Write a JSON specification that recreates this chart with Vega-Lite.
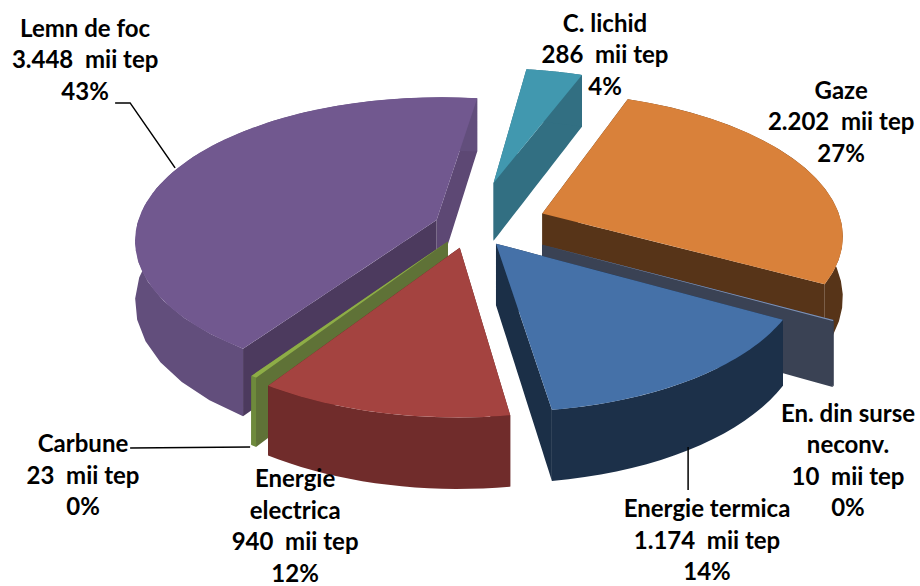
{"$schema":"https://vega.github.io/schema/vega-lite/v6.json","width":920,"height":586,"autosize":{"type":"none"},"padding":0,"background":"white","view":{"stroke":null},
"data":{"values":[
{"name":"Lemn de foc","value":3448,"label":"Lemn de foc\n3.448\u00a0 mii tep\n43%"},
{"name":"Gaze","value":2202,"label":"Gaze\n2.202\u00a0 mii tep\n27%"},
{"name":"C. lichid","value":286,"label":"C. lichid\n286\u00a0 mii tep\n4%"},
{"name":"En. din surse neconv.","value":10,"label":"En. din surse\nneconv.\n10\u00a0 mii tep\n0%"},
{"name":"Carbune","value":23,"label":"Carbune\n23\u00a0 mii tep\n0%"},
{"name":"Energie electrica","value":940,"label":"Energie\nelectrica\n940\u00a0 mii tep\n12%"},
{"name":"Energie termica","value":1174,"label":"Energie termica\n1.174\u00a0 mii tep\n14%"}
]},
"layer":[
{"transform":[
{"calculate":"indexof(['C. lichid','Gaze','En. din surse neconv.','Energie termica','Energie electrica','Carbune','Lemn de foc'],datum.name)","as":"seq"},
{"stack":"value","sort":[{"field":"seq","order":"ascending"}],"as":["v0","v1"]},
{"joinaggregate":[{"op":"sum","field":"value","as":"total"}]},
{"calculate":"(8+360*datum.v0/datum.total)*PI/180","as":"a0"},
{"calculate":"(8+360*datum.v1/datum.total)*PI/180","as":"a1"},
{"calculate":"(datum.a0+datum.a1)/2","as":"mid"},
{"calculate":"({'C. lichid':0.33,'Gaze':0.26,'En. din surse neconv.':0.27,'Energie termica':0.15,'Energie electrica':0.155,'Carbune':0.13,'Lemn de foc':0.12})[datum.name]","as":"e"},
{"calculate":"['wall0','wall1','outer','top']","as":"part"},
{"flatten":["part"]},
{"calculate":"sequence(0,41)","as":"i"},
{"flatten":["i"]},
{"calculate":"datum.i<=20?datum.i/20:(40-datum.i)/19","as":"s"},
{"calculate":"datum.part=='top'?0:(datum.i<=20?0:1)","as":"z"},
{"calculate":"datum.part=='outer'?1:(datum.part=='top'?(datum.i==0?0:1):datum.s)","as":"r"},
{"calculate":"datum.part=='wall0'?0:(datum.part=='wall1'?1:(datum.part=='outer'?datum.s:max(datum.i-1,0)/39))","as":"t"},
{"calculate":"datum.a0+(datum.a1-datum.a0)*datum.t","as":"th"},
{"calculate":"datum.r*sin(datum.th)+datum.e*sin(datum.mid)","as":"u"},
{"calculate":"-datum.r*cos(datum.th)-datum.e*cos(datum.mid)","as":"w"},
{"calculate":"1/(1-0.134*datum.w)","as":"sc"},
{"calculate":"datum.u*datum.sc","as":"px"},
{"calculate":"(datum.w+datum.z*0.43)*datum.sc","as":"py"},
{"calculate":"datum.name+'|'+datum.part","as":"key"}
],
"mark":{"type":"line","filled":true,"interpolate":"linear"},
"encoding":{
"x":{"field":"px","type":"quantitative","axis":null,"scale":{"domain":[-1.5667,1.5],"nice":false,"zero":false}},
"y":{"field":"py","type":"quantitative","axis":null,"scale":{"domain":[-1.607,2.56],"nice":false,"zero":false,"reverse":true}},
"order":{"field":"i","type":"quantitative"},
"detail":{"field":"key"},
"color":{"field":"key","type":"nominal","legend":null,"scale":{
"domain":["Lemn de foc|wall0","Lemn de foc|wall1","Lemn de foc|outer","Lemn de foc|top","Gaze|wall0","Gaze|wall1","Gaze|outer","Gaze|top","C. lichid|wall0","C. lichid|wall1","C. lichid|outer","C. lichid|top","En. din surse neconv.|wall0","En. din surse neconv.|wall1","En. din surse neconv.|outer","En. din surse neconv.|top","Carbune|wall0","Carbune|wall1","Carbune|outer","Carbune|top","Energie electrica|wall0","Energie electrica|wall1","Energie electrica|outer","Energie electrica|top","Energie termica|wall0","Energie termica|wall1","Energie termica|outer","Energie termica|top"],
"range":["#4C3A5E","#5D4874","#624E7C","#71588F","#573418","#573418","#573418","#D9813A","#326F82","#326F82","#326F82","#4198AF","#3A4254","#3A4254","#3A4254","#7F93B8","#5F7237","#5F7237","#6E8A3C","#8EAD47","#5B2220","#5B2220","#702C2B","#A44340","#1B2F47","#1B2F47","#1C3049","#4571A8"]}}
}},
{"transform":[
{"calculate":"({'Lemn de foc':[{x:-1.183,y:-0.875,k:0},{x:-1.133,y:-0.875,k:1},{x:-0.983,y:-0.413,k:2}],'Carbune':[{x:-1.133,y:1.579,k:0},{x:-0.733,y:1.572,k:1}],'Energie termica':[{x:0.727,y:1.572,k:0},{x:0.727,y:1.878,k:1}]})[datum.name]","as":"pts"},
{"filter":"isValid(datum.pts)"},
{"flatten":["pts"]},
{"calculate":"datum.pts.x","as":"lx"},
{"calculate":"datum.pts.y","as":"ly"},
{"calculate":"datum.pts.k","as":"k"}
],
"mark":{"type":"line","color":"black","strokeWidth":1.5},
"encoding":{"x":{"field":"lx","type":"quantitative"},"y":{"field":"ly","type":"quantitative"},"order":{"field":"k","type":"quantitative"},"detail":{"field":"name"}}},
{"transform":[
{"calculate":"({'Lemn de foc':-1.283,'C. lichid':0.45,'Gaze':1.237,'En. din surse neconv.':1.26,'Energie termica':0.79,'Energie electrica':-0.583,'Carbune':-1.29})[datum.name]","as":"tx"},
{"calculate":"({'Lemn de foc':-1.394,'C. lichid':-1.43,'Gaze':-0.953,'En. din surse neconv.':1.344,'Energie termica':2.02,'Energie electrica':1.807,'Carbune':1.558})[datum.name]","as":"ty"}
],
"mark":{"type":"text","font":"Lato","fontWeight":"bold","fontSize":24,"lineHeight":31.5,"lineBreak":"\n","align":"center","baseline":"middle","color":"black"},
"encoding":{"x":{"field":"tx","type":"quantitative"},"y":{"field":"ty","type":"quantitative"},"text":{"field":"label"}}}
]}
